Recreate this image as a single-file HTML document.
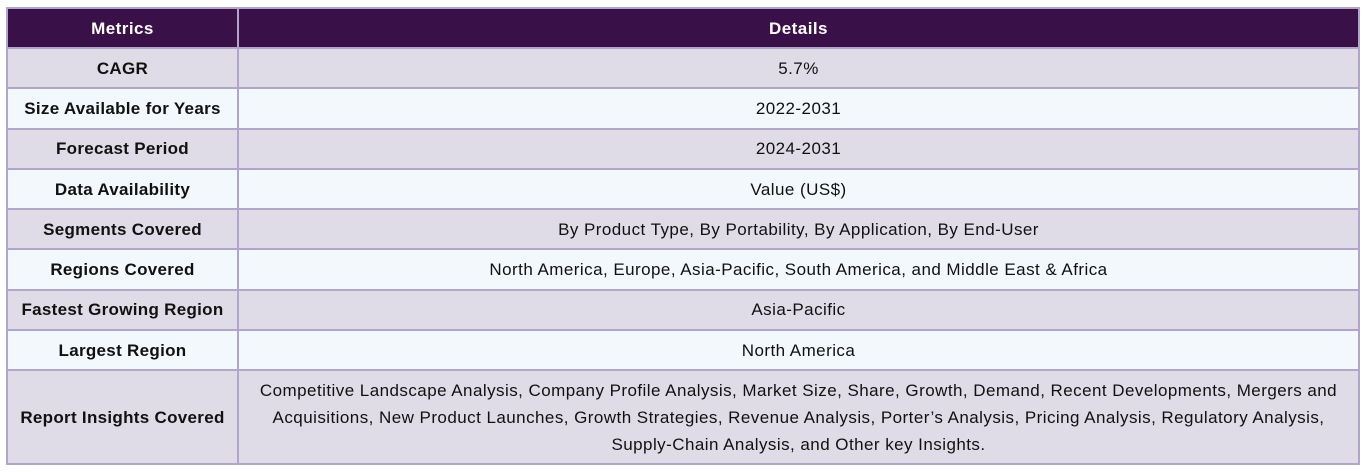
<!DOCTYPE html>
<html><head><meta charset="utf-8"><style>
html,body{margin:0;padding:0;width:1366px;height:472px;background:#fff;overflow:hidden}
table{position:absolute;left:6px;top:7px;width:1354px;border-collapse:collapse;font-family:"Liberation Sans",sans-serif;font-size:17px;letter-spacing:0.45px;color:#111}
td,th{border:2px solid #b1a6c9;text-align:center;padding:0 4px;line-height:27px}
th{background:#3a1048;color:#fff;font-weight:bold;height:38px}
td.m{font-weight:bold;width:221px;letter-spacing:0.3px}
tr.a td{background:#dfdce8}
tr.b td{background:#f3f8fc}
tr.r td{height:38.3px}
</style></head><body>
<table>
<tr><th>Metrics</th><th>Details</th></tr>
<tr class="a r"><td class="m">CAGR</td><td>5.7%</td></tr>
<tr class="b r"><td class="m">Size Available for Years</td><td>2022-2031</td></tr>
<tr class="a r"><td class="m">Forecast Period</td><td>2024-2031</td></tr>
<tr class="b r"><td class="m">Data Availability</td><td>Value (US$)</td></tr>
<tr class="a r"><td class="m">Segments Covered</td><td>By Product Type, By Portability, By Application, By End-User</td></tr>
<tr class="b r"><td class="m">Regions Covered</td><td>North America, Europe, Asia-Pacific, South America, and Middle East &amp; Africa</td></tr>
<tr class="a r"><td class="m">Fastest Growing Region</td><td>Asia-Pacific</td></tr>
<tr class="b r"><td class="m">Largest Region</td><td>North America</td></tr>
<tr class="a"><td class="m" style="height:92px">Report Insights Covered</td><td style="white-space:nowrap">Competitive Landscape Analysis, Company Profile Analysis, Market Size, Share, Growth, Demand, Recent Developments, Mergers and<br>Acquisitions, New Product Launches, Growth Strategies, Revenue Analysis, Porter’s Analysis, Pricing Analysis, Regulatory Analysis,<br>Supply-Chain Analysis, and Other key Insights.</td></tr>
</table>
</body></html>
